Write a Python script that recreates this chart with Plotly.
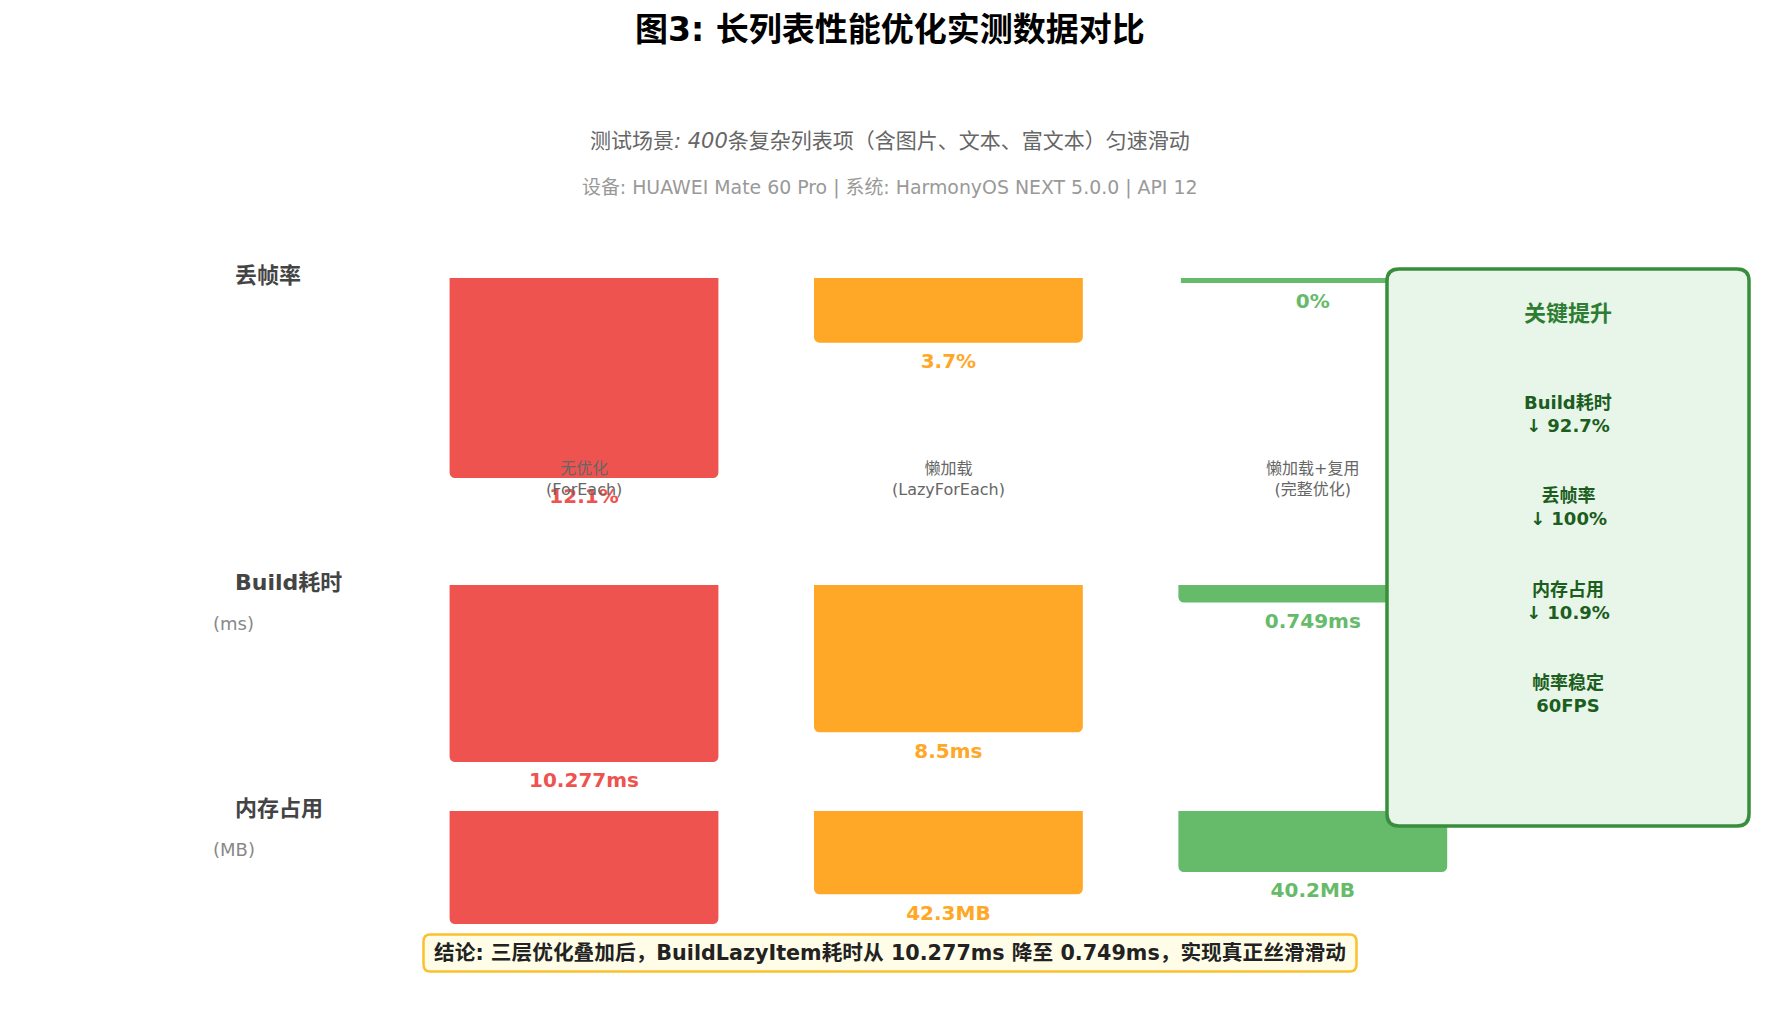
import plotly.graph_objects as go

W, H = 1780, 1029
FONT = "DejaVu Sans, Noto Sans CJK SC, sans-serif"

# ---------------- data ----------------
categories = ["无优化<br>(ForEach)", "懒加载<br>(LazyForEach)", "懒加载+复用<br>(完整优化)"]
bar_colors = ["#EF5350", "#FFA726", "#66BB6A"]

metric_names = ["丢帧率", "Build耗时", "内存占用"]
metric_units = ["", "(ms)", "(MB)"]
metric_suffix = ["%", "ms", "MB"]

frame_drop_pct = [12.1, 3.7, 0.0]
build_time_ms = [10.277, 8.5, 0.749]
memory_mb = [45.1, 42.3, 40.2]

key_titles = ["Build耗时", "丢帧率", "内存占用", "帧率稳定"]
key_values = ["↓ 92.7%", "↓ 100%", "↓ 10.9%", "60FPS"]

title_text = "图3: 长列表性能优化实测数据对比"
subtitle_1 = "测试场景<i>: 400</i>条复杂列表项（含图片、文本、富文本）匀速滑动"
subtitle_2 = "设备: HUAWEI Mate 60 Pro | 系统: HarmonyOS NEXT 5.0.0 | API 12"
conclusion = "结论: 三层优化叠加后，BuildLazyItem耗时从 10.277ms 降至 0.749ms，实现真正丝滑滑动"

# ---------------- layout helpers ----------------
def px_x(p):
    return p / W


def px_y(p):
    return 1 - p / H


# per-row pixel geometry: domain (top, bottom) and pixel(v) = a + k*v
row_geom = [
    dict(top=270, bottom=525, a=280.5, k=16.12),
    dict(top=578, bottom=800, a=587.5, k=16.74),
    dict(top=811, bottom=1010, a=869.5 - 10.61 * 40.2, k=10.61),
]
row_values = [frame_drop_pct, build_time_ms, memory_mb]

X_CENTER0 = 584.0
X_STEP = 364.4

fig = go.Figure()

for i, (vals, g) in enumerate(zip(row_values, row_geom)):
    yname = "y" if i == 0 else f"y{i + 1}"
    fig.add_trace(go.Bar(
        x=[0, 1, 2], y=vals, width=0.724,
        marker=dict(color=bar_colors, line=dict(color=bar_colors, width=5), cornerradius=3),
        xaxis="x", yaxis=yname, hoverinfo="skip", showlegend=False,
    ))
    fig.add_trace(go.Scatter(
        x=[0, 1, 2], y=vals, mode="markers+text",
        marker=dict(size=19, opacity=0),
        text=[f"{v:g}{metric_suffix[i]}" for v in vals],
        textposition="bottom center",
        textfont=dict(family=FONT, size=20, color=bar_colors, weight="bold"),
        xaxis="x", yaxis=yname, hoverinfo="skip", showlegend=False,
    ))

layout_axes = dict(
    xaxis=dict(domain=[0, 1], range=[-X_CENTER0 / X_STEP, (W - X_CENTER0) / X_STEP],
               visible=False, fixedrange=True),
)
for i, g in enumerate(row_geom):
    key = "yaxis" if i == 0 else f"yaxis{i + 1}"
    layout_axes[key] = dict(
        domain=[px_y(g["bottom"]), px_y(g["top"])],
        range=[(g["bottom"] - g["a"]) / g["k"], (g["top"] - g["a"]) / g["k"]],
        anchor="x", visible=False, fixedrange=True,
    )


def rounded_path(x0, y0, x1, y1, r):
    rx, ry = r / W, r / H
    X0, X1 = px_x(x0), px_x(x1)
    Y0, Y1 = px_y(y0), px_y(y1)  # Y0 top (larger), Y1 bottom
    return (f"M {X0 + rx} {Y0} L {X1 - rx} {Y0} Q {X1} {Y0} {X1} {Y0 - ry} "
            f"L {X1} {Y1 + ry} Q {X1} {Y1} {X1 - rx} {Y1} "
            f"L {X0 + rx} {Y1} Q {X0} {Y1} {X0} {Y1 + ry} "
            f"L {X0} {Y0 - ry} Q {X0} {Y0} {X0 + rx} {Y0} Z")


shapes = [
    dict(type="path", xref="paper", yref="paper", layer="above",
         path=rounded_path(1387, 269, 1749, 826, 12),
         fillcolor="#E8F5E9", line=dict(color="#388E3C", width=3.5)),
    dict(type="path", xref="paper", yref="paper", layer="above",
         path=rounded_path(423.5, 934.5, 1356.5, 971.5, 7),
         fillcolor="#FFFDE7", line=dict(color="#FBC02D", width=2.5)),
]

ann = []


def text(x, y, s, size, color, bold=False, xanchor="center", xref="paper"):
    ann.append(dict(
        x=x, y=y, xref=xref, yref="paper", text=s, showarrow=False,
        xanchor=xanchor, yanchor="middle",
        font=dict(family=FONT, size=size, color=color, weight="bold" if bold else "normal"),
    ))


text(0.5, px_y(30), title_text, 33, "#000000", bold=True)
text(0.5, px_y(141), subtitle_1, 21, "#666666")
text(0.5, px_y(188), subtitle_2, 18.9, "#999999")

label_rows_y = [275, 582, 808]
for name, unit, yy in zip(metric_names, metric_units, label_rows_y):
    text(px_x(233), px_y(yy), name, 22, "#444444", bold=True, xanchor="left")
    if unit:
        text(px_x(211), px_y(yy + 41), unit, 18, "#888888", xanchor="left")

for j, c in enumerate(categories):
    text(j, px_y(479.5), c, 16, "#666666", xref="x")

text(px_x(1568), px_y(313), "关键提升", 22, "#2E7D32", bold=True)
for j, (t, v) in enumerate(zip(key_titles, key_values)):
    yc = 414 + j * 93.3
    text(px_x(1568), px_y(yc), f"{t}<br>{v}", 18, "#1B5E20", bold=True)

text(px_x(890), px_y(953), conclusion, 20.7, "#222222", bold=True)

fig.update_layout(
    width=W, height=H, autosize=False,
    margin=dict(l=0, r=0, t=0, b=0, pad=0),
    paper_bgcolor="white", plot_bgcolor="rgba(0,0,0,0)",
    showlegend=False, barmode="overlay",
    shapes=shapes, annotations=ann,
    font=dict(family=FONT),
    **layout_axes,
)

fig.write_html("out.html", config={"displayModeBar": False},
               post_script="document.body.style.margin='0';")
